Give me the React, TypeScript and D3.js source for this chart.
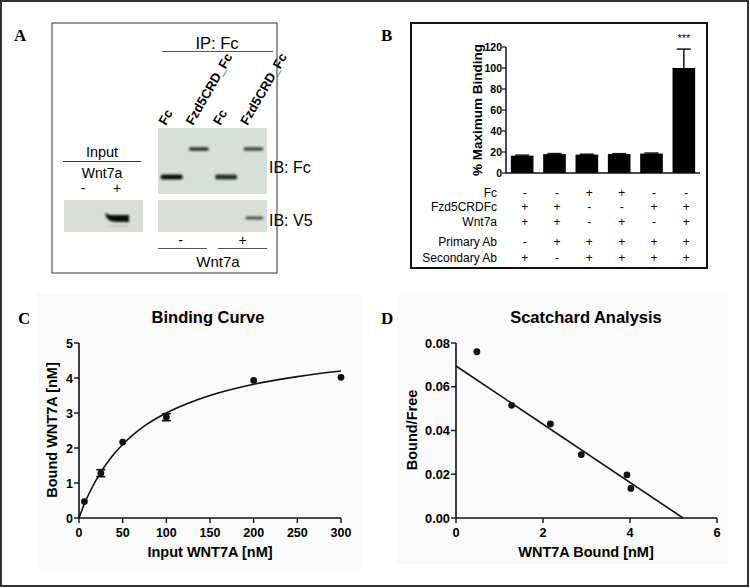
import React from "react";
import * as d3 from "d3";

// ---------- Panel B data ----------
const bCategories = ["c1", "c2", "c3", "c4", "c5", "c6"];
const bValues = [16.5, 18, 17.5, 18, 18.5, 100];
const bErrors = [0.5, 0.5, 0.4, 0.4, 0.5, 18];
const bTicks = [0, 20, 40, 60, 80, 100, 120];
const tableRows = ["Fc", "Fzd5CRDFc", "Wnt7a", "Primary Ab", "Secondary Ab"];
const tableSigns = [
  ["-", "-", "+", "+", "-", "-"],
  ["+", "+", "-", "-", "+", "+"],
  ["+", "+", "-", "+", "-", "+"],
  ["-", "+", "+", "+", "+", "+"],
  ["+", "-", "+", "+", "+", "+"],
];

// ---------- Panel C data ----------
const inputConc = [6.25, 25, 50, 100, 200, 300];
const boundConc = [0.47, 1.28, 2.17, 2.88, 3.93, 4.02];
const boundErr = [0, 0.1, 0, 0.1, 0, 0];
const fitX = [0, 6.25, 12.5, 25, 37.5, 50, 75, 100, 125, 150, 200, 250, 300];
const fitY = [0, 0.41, 0.75, 1.31, 1.75, 2.1, 2.63, 3.0, 3.28, 3.5, 3.82, 4.04, 4.2];
const cXTicks = [0, 50, 100, 150, 200, 250, 300];
const cYTicks = [0, 1, 2, 3, 4, 5];

// ---------- Panel D data ----------
const scatX = [0.48, 1.28, 2.17, 2.88, 3.93, 4.02];
const scatY = [0.076, 0.0515, 0.043, 0.029, 0.0197, 0.0135];
const lineX = [0, 5.22];
const lineY = [0.0695, 0];
const dXTicks = [0, 2, 4, 6];
const dYTicks = [0, 0.02, 0.04, 0.06, 0.08];

// ---------- Panel A (blot) ----------
const ipLanes = ["Fc", "Fzd5CRD_Fc", "Fc", "Fzd5CRD_Fc"];
const ipWnt = ["-", "+"];
const inputLanes = ["-", "+"];
const fcBands = [
  { lane: 0, row: "low", w: 1 },
  { lane: 1, row: "high", w: 0.85 },
  { lane: 2, row: "low", w: 0.85 },
  { lane: 3, row: "high", w: 0.75 },
];
const v5Bands = [{ lane: 3, w: 0.7 }];
const inputBands = [{ lane: 1, w: 1 }];

const SANS = "'Liberation Sans', Arial, Helvetica, sans-serif";
const SERIF = "'Liberation Serif', 'Times New Roman', serif";

function PanelA() {
  const lane = d3.scaleBand<number>().domain([0, 1, 2, 3]).range([158, 267]);
  const inLane = d3.scaleBand<number>().domain([0, 1]).range([66, 134]);
  const rowY: Record<string, number> = { high: 149, low: 177 };
  const blot = "#d6e0d8";
  return (
    <g>
      <defs>
        <filter id="blur1" x="-30%" y="-100%" width="160%" height="300%">
          <feGaussianBlur stdDeviation="0.8" />
        </filter>
      </defs>
      <rect x={52} y={23} width={225} height={250} fill="none" stroke="#333" strokeWidth={1} />
      <text x={14} y={41} fontFamily={SERIF} fontWeight="bold" fontSize={17}>A</text>
      <text x={217} y={49} textAnchor="middle" fontFamily={SANS} fontSize={16.5}>IP: Fc</text>
      <line x1={162} x2={273} y1={51.5} y2={51.5} stroke="#555" strokeWidth={1} />
      {ipLanes.map((l, i) => {
        const x = (lane(i) as number) + lane.bandwidth() / 2 - 6;
        return (
          <text key={i} transform={`translate(${x},126) rotate(-60)`} fontFamily={SANS}
            fontWeight="bold" fontSize={13}>{l}</text>
        );
      })}
      <rect x={158} y={128} width={109} height={66} fill={blot} />
      <rect x={158} y={200} width={109} height={32} fill={blot} />
      {fcBands.map((b, i) => {
        const cx = (lane(b.lane) as number) + lane.bandwidth() / 2;
        const bw = b.row === "low" ? 22 : 20;
        const bh = b.row === "low" ? 5 : 3.6;
        return (
          <rect key={i} x={cx - bw / 2} y={rowY[b.row] - bh / 2} width={bw} height={bh} rx={2}
            fill="#111" opacity={b.w} filter="url(#blur1)" />
        );
      })}
      {v5Bands.map((b, i) => {
        const cx = (lane(b.lane) as number) + lane.bandwidth() / 2 + 1;
        return (
          <rect key={i} x={cx - 9} y={216.5} width={18} height={3} rx={1.5} fill="#111"
            opacity={b.w} filter="url(#blur1)" />
        );
      })}
      <text x={269} y={173} fontFamily={SANS} fontSize={16}>IB: Fc</text>
      <text x={269} y={226} fontFamily={SANS} fontSize={16}>IB: V5</text>
      {ipWnt.map((s, i) => {
        const x0 = i === 0 ? 158 : 218;
        const x1 = i === 0 ? 207 : 267;
        return (
          <g key={i}>
            <text x={(x0 + x1) / 2 - 2 + i * 2} y={245} textAnchor="middle" fontFamily={SANS} fontSize={14}>{s}</text>
            <line x1={x0} x2={x1} y1={248.5} y2={248.5} stroke="#555" />
          </g>
        );
      })}
      <text x={218} y={267} textAnchor="middle" fontFamily={SANS} fontSize={15}>Wnt7a</text>
      <text x={102} y={157} textAnchor="middle" fontFamily={SANS} fontSize={14.5}>Input</text>
      <line x1={63} x2={141} y1={161.5} y2={161.5} stroke="#333" />
      <text x={102} y={178} textAnchor="middle" fontFamily={SANS} fontSize={14}>Wnt7a</text>
      {inputLanes.map((s, i) => (
        <text key={i} x={(inLane(i) as number) + inLane.bandwidth() / 2} y={193} textAnchor="middle"
          fontFamily={SANS} fontSize={14}>{s}</text>
      ))}
      <rect x={64} y={200} width={79} height={32} fill={blot} />
      {inputBands.map((b, i) => {
        const cx = (inLane(b.lane) as number) + inLane.bandwidth() / 2;
        return (
          <g key={i} filter="url(#blur1)">
            <path d={`M${cx - 12},213 Q${cx - 11},222 ${cx},222 L${cx + 12},222 L${cx + 12},215 L${cx - 7},215 Z`}
              fill="#111" opacity={b.w} />
            <rect x={cx - 9} y={225} width={20} height={1.5} fill="#888" opacity={0.4} />
          </g>
        );
      })}
    </g>
  );
}

function PanelB() {
  const x = d3.scaleBand<string>().domain(bCategories).range([506, 700]).paddingInner(0.3).paddingOuter(0.15);
  const y = d3.scaleLinear().domain([0, 120]).range([173, 47]);
  const bw = x.bandwidth();
  const rowYs = [193, 207, 222, 242, 258];
  return (
    <g>
      <rect x={411} y={23} width={296} height={245} fill="none" stroke="#111" strokeWidth={2} />
      <text x={381} y={41} fontFamily={SERIF} fontWeight="bold" fontSize={17}>B</text>
      <line x1={506} x2={506} y1={y(0)} y2={y(120)} stroke="#111" strokeWidth={1.5} />
      {bTicks.map((t) => (
        <g key={t}>
          <line x1={502} x2={506} y1={y(t)} y2={y(t)} stroke="#111" strokeWidth={1.2} />
          <text x={502} y={y(t) + 4} textAnchor="end" fontFamily={SANS} fontWeight="bold" fontSize={10.5}>{t}</text>
        </g>
      ))}
      <text transform={`translate(482,${(y(0) + y(120)) / 2}) rotate(-90)`} textAnchor="middle"
        fontFamily={SANS} fontWeight="bold" fontSize={13.5}>% Maximum Binding</text>
      {bCategories.map((c, i) => {
        const bx = x(c) as number;
        const cx = bx + bw / 2;
        return (
          <g key={c}>
            <line x1={cx} x2={cx} y1={y(bValues[i])} y2={y(bValues[i] + bErrors[i])} stroke="#111" strokeWidth={1.5} />
            <line x1={cx - 7} x2={cx + 7} y1={y(bValues[i] + bErrors[i])} y2={y(bValues[i] + bErrors[i])}
              stroke="#111" strokeWidth={1.5} />
            <rect x={bx} y={y(bValues[i])} width={bw} height={y(0) - y(bValues[i])} fill="#000" />
          </g>
        );
      })}
      <line x1={506} x2={700} y1={y(0)} y2={y(0)} stroke="#111" strokeWidth={1.5} />
      <text x={(x("c6") as number) + bw / 2} y={42} textAnchor="middle" fontFamily={SANS} fontSize={11}>***</text>
      {tableRows.map((r, ri) => (
        <g key={r}>
          <text x={497} y={rowYs[ri] + 4} textAnchor="end" fontFamily={SANS} fontSize={12}>{r}</text>
          {tableSigns[ri].map((s, ci) => (
            <text key={ci} x={(x(bCategories[ci]) as number) + bw / 2 + 2.5} y={rowYs[ri] + 4}
              textAnchor="middle" fontFamily={SANS} fontSize={12}>{s}</text>
          ))}
        </g>
      ))}
    </g>
  );
}

function PanelC() {
  const x = d3.scaleLinear().domain([0, 300]).range([79, 341]);
  const y = d3.scaleLinear().domain([0, 5]).range([518, 343]);
  const line = d3.line<number>().x((d) => x(fitX[d])).y((d) => y(fitY[d])).curve(d3.curveMonotoneX);
  return (
    <g>
      <rect x={37} y={293} width={325} height={277} fill="#fafafa" />
      <text x={18} y={324} fontFamily={SERIF} fontWeight="bold" fontSize={17}>C</text>
      <text x={208} y={323} textAnchor="middle" fontFamily={SANS} fontWeight="bold" fontSize={16.5}>Binding Curve</text>
      <line x1={79} x2={79} y1={y(0)} y2={y(5)} stroke="#111" strokeWidth={1.6} />
      <line x1={79} x2={341} y1={y(0)} y2={y(0)} stroke="#111" strokeWidth={1.6} />
      {cYTicks.map((t) => (
        <g key={t}>
          <line x1={74} x2={79} y1={y(t)} y2={y(t)} stroke="#111" strokeWidth={1.4} />
          <text x={73} y={y(t) + 4.5} textAnchor="end" fontFamily={SANS} fontWeight="bold" fontSize={12.5}>{t}</text>
        </g>
      ))}
      {cXTicks.map((t) => (
        <g key={t}>
          <line x1={x(t)} x2={x(t)} y1={518} y2={523} stroke="#111" strokeWidth={1.4} />
          <text x={x(t)} y={537} textAnchor="middle" fontFamily={SANS} fontWeight="bold" fontSize={12.5}>{t}</text>
        </g>
      ))}
      <text x={210} y={557} textAnchor="middle" fontFamily={SANS} fontWeight="bold" fontSize={14.5}>Input WNT7A [nM]</text>
      <text transform={`translate(57,430) rotate(-90)`} textAnchor="middle" fontFamily={SANS} fontWeight="bold"
        fontSize={14.5}>Bound WNT7A [nM]</text>
      <path d={line(fitX.map((_, i) => i)) || ""} fill="none" stroke="#111" strokeWidth={1.6} />
      {inputConc.map((c, i) => (
        <g key={i}>
          {boundErr[i] > 0 && (
            <g stroke="#111" strokeWidth={1.6}>
              <line x1={x(c)} x2={x(c)} y1={y(boundConc[i] - boundErr[i])} y2={y(boundConc[i] + boundErr[i])} />
              <line x1={x(c) - 4.5} x2={x(c) + 4.5} y1={y(boundConc[i] - boundErr[i])} y2={y(boundConc[i] - boundErr[i])} />
              <line x1={x(c) - 4.5} x2={x(c) + 4.5} y1={y(boundConc[i] + boundErr[i])} y2={y(boundConc[i] + boundErr[i])} />
            </g>
          )}
          <circle cx={x(c)} cy={y(boundConc[i])} r={3.4} fill="#111" />
        </g>
      ))}
    </g>
  );
}

function PanelD() {
  const x = d3.scaleLinear().domain([0, 6]).range([456, 717]);
  const y = d3.scaleLinear().domain([0, 0.08]).range([518, 343]);
  const fmt = d3.format(".2f");
  return (
    <g>
      <rect x={397} y={295} width={331} height={270} fill="#fafafa" />
      <text x={381} y={324} fontFamily={SERIF} fontWeight="bold" fontSize={17}>D</text>
      <text x={586} y={323} textAnchor="middle" fontFamily={SANS} fontWeight="bold" fontSize={16.5}>Scatchard Analysis</text>
      <line x1={456} x2={456} y1={y(0)} y2={y(0.08)} stroke="#111" strokeWidth={1.6} />
      <line x1={456} x2={717} y1={y(0)} y2={y(0)} stroke="#111" strokeWidth={1.6} />
      {dYTicks.map((t) => (
        <g key={t}>
          <line x1={451} x2={456} y1={y(t)} y2={y(t)} stroke="#111" strokeWidth={1.4} />
          <text x={450} y={y(t) + 4.5} textAnchor="end" fontFamily={SANS} fontWeight="bold" fontSize={12.8}>{fmt(t)}</text>
        </g>
      ))}
      {dXTicks.map((t) => (
        <g key={t}>
          <line x1={x(t)} x2={x(t)} y1={518} y2={523} stroke="#111" strokeWidth={1.4} />
          <text x={x(t)} y={537} textAnchor="middle" fontFamily={SANS} fontWeight="bold" fontSize={12.8}>{t}</text>
        </g>
      ))}
      <text x={586} y={557} textAnchor="middle" fontFamily={SANS} fontWeight="bold" fontSize={14.5}>WNT7A Bound [nM]</text>
      <text transform={`translate(417,430) rotate(-90)`} textAnchor="middle" fontFamily={SANS} fontWeight="bold"
        fontSize={14.5}>Bound/Free</text>
      <line x1={x(lineX[0])} y1={y(lineY[0])} x2={x(lineX[1])} y2={y(lineY[1])} stroke="#111" strokeWidth={1.6} />
      {scatX.map((v, i) => (
        <circle key={i} cx={x(v)} cy={y(scatY[i])} r={3.4} fill="#111" />
      ))}
    </g>
  );
}

export default function App() {
  return (
    <svg width={750} height={588} style={{ position: "absolute", left: 0, top: 0, background: "#fff" }}>
      <rect x={0} y={0} width={750} height={588} fill="#fff" />
      <rect x={1} y={1} width={747} height={585} fill="none" stroke="#333" strokeWidth={2} />
      <PanelA />
      <PanelB />
      <PanelC />
      <PanelD />
    </svg>
  );
}
